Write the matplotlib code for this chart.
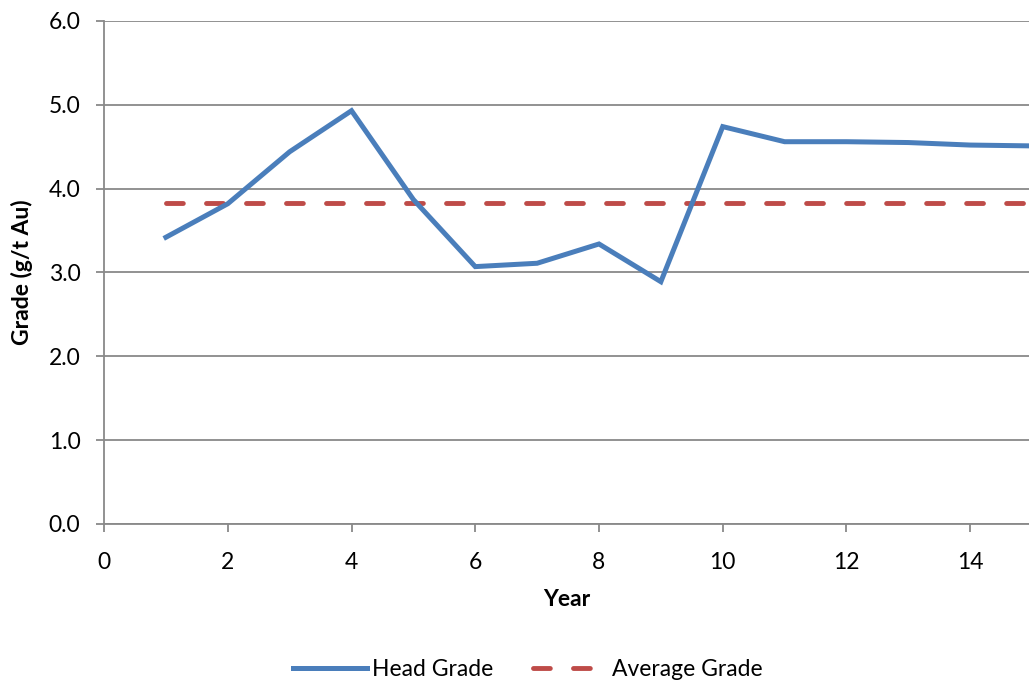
import matplotlib
matplotlib.use("Agg")
import matplotlib.pyplot as plt

years = [1, 2, 3, 4, 5, 6, 7, 8, 9, 10, 11, 12, 13, 14, 15]
head_grade = [3.42, 3.82, 4.44, 4.93, 3.87, 3.07, 3.11, 3.34, 2.89, 4.74, 4.56, 4.56, 4.55, 4.52, 4.51]
average_grade = [3.83] * len(years)
x_ticks = [0, 2, 4, 6, 8, 10, 12, 14]
y_ticks = [0, 1, 2, 3, 4, 5, 6]

BLUE, RED, GRID = "#4A7EBB", "#BE4B48", "#898989"
plt.rcParams["font.family"] = ["Lato", "DejaVu Sans"]
FS = 16.5

fig = plt.figure(figsize=(10.29, 6.86), dpi=100)
ax = fig.add_axes([0.1011, 0.2362, 0.8989, 0.7332])

ax.plot(years, head_grade, color=BLUE, lw=3.6, solid_joinstyle="miter",
        label="Head Grade", zorder=3)
ax.plot(years, average_grade, color=RED, lw=3.5, dashes=(3.46, 4.77),
        dash_capstyle="round", label="Average Grade", zorder=2)

ax.set_xlim(0, 14.95)
ax.set_ylim(0, 6)
ax.set_xticks(x_ticks)
ax.set_yticks(y_ticks)
ax.set_yticklabels([f"{v:.1f}" for v in y_ticks])
ax.grid(axis="y", color=GRID, lw=1.3)
ax.set_axisbelow(True)
for s in ["top", "right"]:
    ax.spines[s].set_visible(False)
for s in ["left", "bottom"]:
    ax.spines[s].set_color(GRID)
    ax.spines[s].set_linewidth(1.3)
ax.tick_params(axis="both", direction="out", length=6, width=1.3, color=GRID,
               labelsize=FS)
ax.tick_params(axis="y", pad=11)
ax.tick_params(axis="x", pad=14)

ax.set_xlabel("Year", fontsize=FS, fontweight="bold", va="center")
ax.xaxis.set_label_coords(0.5, -0.151)
ax.set_ylabel("Grade (g/t Au)", fontsize=FS, fontweight="bold", va="center")
ax.yaxis.set_label_coords(-0.0886, 0.5)

fig.legend(loc="center", bbox_to_anchor=(0.513, 1 - 670 / 686), ncol=2, frameon=False,
           fontsize=FS, handlelength=3.2, columnspacing=1.7, handletextpad=0.25)

fig.savefig("out.png", dpi=100)
